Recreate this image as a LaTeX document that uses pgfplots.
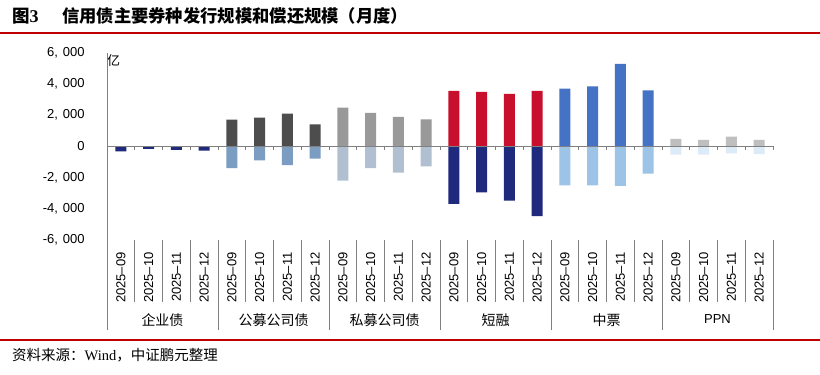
\documentclass[border=0pt]{standalone}
\usepackage{pgfplots}
\pgfplotsset{compat=1.18}
\usepackage{fontspec}
\setmainfont{Liberation Sans}
\newfontfamily\cjk{Noto Sans CJK SC}
\newfontfamily\serif{Liberation Serif}
\definecolor{navy}{HTML}{1F2A7C}
\definecolor{dgray}{HTML}{4D4D4D}
\definecolor{steel}{HTML}{7B9DC2}
\definecolor{mgray}{HTML}{999999}
\definecolor{lbgray}{HTML}{B1C0D0}
\definecolor{cred}{HTML}{C8102E}
\definecolor{mblue}{HTML}{4472C4}
\definecolor{lblue}{HTML}{9DC3E6}
\definecolor{pgray}{HTML}{BFBFBF}
\definecolor{pblue}{HTML}{DDEBF7}
\definecolor{axisgray}{HTML}{808080}
\definecolor{rule}{HTML}{C00000}
\begin{document}
\begin{tikzpicture}[x=1pt,y=1pt]
\useasboundingbox (0,0) rectangle (820,-375);
\fill[white] (0,0) rectangle (820,-375);
\node[anchor=west, inner sep=0pt] at (12,-16) {\cjk\bfseries\fontsize{17.5}{17.5}\selectfont 图\serif\bfseries\fontsize{18}{18}\selectfont 3};
\node[anchor=west, inner sep=0pt] at (62,-16) {\cjk\bfseries\fontsize{17.3}{17.3}\selectfont 信用债主要券种发行规模和偿还规模（月度）};
\draw[rule, line width=1.2pt] (0,-33) -- (820,-33);
\draw[rule, line width=1.2pt] (0,-340) -- (820,-340);
\node[anchor=west, inner sep=0pt] at (12,-355) {\fontsize{14.5}{14.5}\selectfont\cjk 资料来源：\serif Wind\cjk ，中证鹏元整理};
\node[inner sep=0pt] at (113.5,-61) {\cjk\fontsize{13}{13}\selectfont 亿};
\begin{axis}[
  at={(107pt,-240pt)}, anchor=south west,
  scale only axis, width=666pt, height=187.3pt,
  xmin=-0.5, xmax=23.5, ymin=-6000, ymax=6000,
  axis y line=left, axis x line=bottom,
  x axis line style={draw=none},
  y axis line style={draw=axisgray, line width=0.9pt, -},
  ytick={-6000,-4000,...,6000},
  yticklabels={{-6,\hspace{5pt}000},{-4,\hspace{5pt}000},{-2,\hspace{5pt}000},0,{2,\hspace{5pt}000},{4,\hspace{5pt}000},{6,\hspace{5pt}000}},
  ytick style={draw=none},
  xtick={0,...,23},
  xticklabels={2025–09,2025–10,2025–11,2025–12,2025–09,2025–10,2025–11,2025–12,2025–09,2025–10,2025–11,2025–12,2025–09,2025–10,2025–11,2025–12,2025–09,2025–10,2025–11,2025–12,2025–09,2025–10,2025–11,2025–12},
  xtick style={draw=none},
  x tick label style={rotate=90, anchor=east, inner sep=0pt, font=\fontsize{13}{13}\selectfont},
  xticklabel shift=10pt,
  y tick label style={anchor=east, inner sep=0pt, xshift=-20pt, font=\fontsize{13}{13}\selectfont},
  clip=false,
]
% 企业债
\addplot[ybar, bar width=0.4, bar shift=0pt, fill=navy, draw=none] coordinates {(0,-320) (1,-160) (2,-220) (3,-270)};
% 公募公司债
\addplot[ybar, bar width=0.4, bar shift=0pt, fill=dgray, draw=none] coordinates {(4,1710) (5,1840) (6,2100) (7,1410)};
\addplot[ybar, bar width=0.4, bar shift=0pt, fill=steel, draw=none] coordinates {(4,-1390) (5,-900) (6,-1200) (7,-790)};
% 私募公司债
\addplot[ybar, bar width=0.4, bar shift=0pt, fill=mgray, draw=none] coordinates {(8,2480) (9,2140) (10,1890) (11,1730)};
\addplot[ybar, bar width=0.4, bar shift=0pt, fill=lbgray, draw=none] coordinates {(8,-2200) (9,-1390) (10,-1690) (11,-1280)};
% 短融
\addplot[ybar, bar width=0.4, bar shift=0pt, fill=cred, draw=none] coordinates {(12,3550) (13,3490) (14,3360) (15,3550)};
\addplot[ybar, bar width=0.4, bar shift=0pt, fill=navy, draw=none] coordinates {(12,-3680) (13,-2950) (14,-3470) (15,-4470)};
% 中票
\addplot[ybar, bar width=0.4, bar shift=0pt, fill=mblue, draw=none] coordinates {(16,3700) (17,3850) (18,5290) (19,3590)};
\addplot[ybar, bar width=0.4, bar shift=0pt, fill=lblue, draw=none] coordinates {(16,-2500) (17,-2500) (18,-2540) (19,-1750)};
% PPN
\addplot[ybar, bar width=0.4, bar shift=0pt, fill=pgray, draw=none] coordinates {(20,480) (21,410) (22,620) (23,410)};
\addplot[ybar, bar width=0.4, bar shift=0pt, fill=pblue, draw=none] coordinates {(20,-530) (21,-530) (22,-450) (23,-490)};
% zero line and ticks
\draw[axisgray, line width=0.9pt] (axis cs:-0.5,0) -- (axis cs:23.5,0);
\pgfplotsinvokeforeach{-0.5,0.5,...,23.5}{\draw[axisgray, line width=0.9pt] (axis cs:#1,0) -- ++(0pt,-3.5pt);}
% separators
\pgfplotsinvokeforeach{-0.5,3.5,7.5,11.5,15.5,19.5,23.5}{\draw[axisgray, line width=0.9pt] (axis cs:#1,-6000) -- ++(0pt,-90pt);}
\pgfplotsinvokeforeach{0.5,1.5,2.5,4.5,5.5,6.5,8.5,9.5,10.5,12.5,13.5,14.5,16.5,17.5,18.5,20.5,21.5,22.5}{\draw[axisgray, line width=0.9pt] (axis cs:#1,-6000) -- ++(0pt,-62pt);}
% group labels
\node[font=\cjk\fontsize{14}{14}\selectfont] at (axis cs:1.5,-6000) [yshift=-80pt] {企业债};
\node[font=\cjk\fontsize{14}{14}\selectfont] at (axis cs:5.5,-6000) [yshift=-80pt] {公募公司债};
\node[font=\cjk\fontsize{14}{14}\selectfont] at (axis cs:9.5,-6000) [yshift=-80pt] {私募公司债};
\node[font=\cjk\fontsize{14}{14}\selectfont] at (axis cs:13.5,-6000) [yshift=-80pt] {短融};
\node[font=\cjk\fontsize{14}{14}\selectfont] at (axis cs:17.5,-6000) [yshift=-80pt] {中票};
\node[font=\fontsize{13}{13}\selectfont] at (axis cs:21.5,-6000) [yshift=-79pt] {PPN};
\end{axis}
\end{tikzpicture}
\end{document}
